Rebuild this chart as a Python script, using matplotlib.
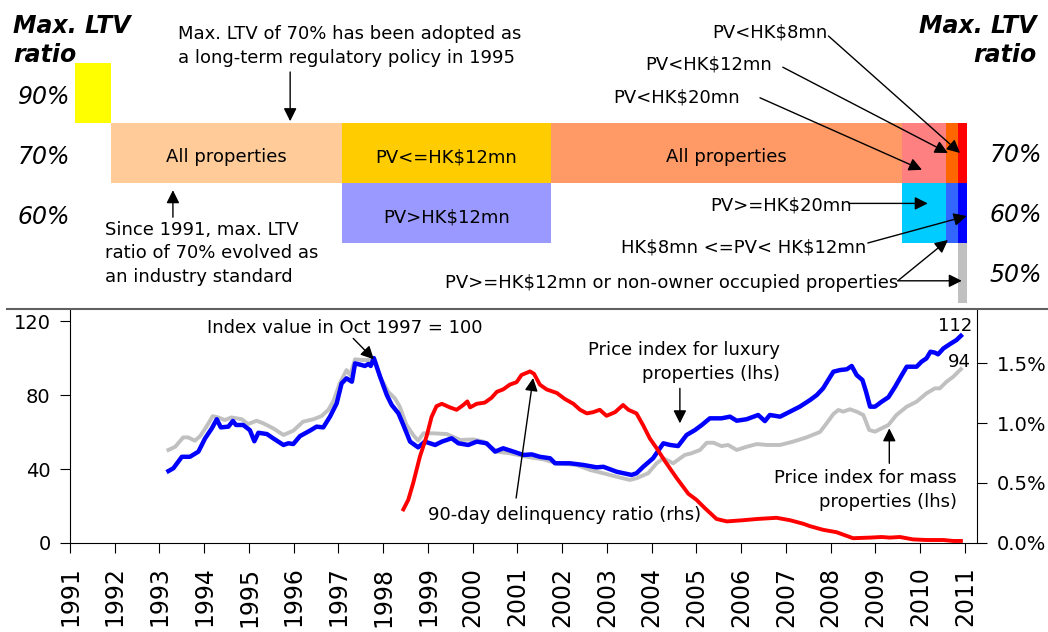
import matplotlib.pyplot as plt
from matplotlib.lines import Line2D
from matplotlib.ticker import FuncFormatter

plt.rcParams['font.family'] = ['DejaVu Sans']
plt.rcParams['text.parse_math'] = False

# ---------------- data ----------------
years = list(range(1991, 2012))

lux_year = [1993.20, 1993.31, 1993.50, 1993.68, 1993.87, 1994.02, 1994.17, 1994.28, 1994.37, 1994.54,
            1994.64, 1994.71, 1994.87, 1995.02, 1995.12, 1995.21, 1995.40, 1995.54, 1995.77, 1995.88,
            1995.99, 1996.14, 1996.36, 1996.51, 1996.66, 1996.81, 1996.96, 1997.07, 1997.18, 1997.30,
            1997.37, 1997.52, 1997.59, 1997.67, 1997.72, 1997.79, 1997.93, 1998.08, 1998.19, 1998.34,
            1998.45, 1998.60, 1998.78, 1998.93, 1999.16, 1999.31, 1999.53, 1999.68, 1999.90, 2000.09,
            2000.31, 2000.50, 2000.68, 2000.91, 2001.13, 2001.32, 2001.50, 2001.73, 2001.84, 2002.17,
            2002.47, 2002.77, 2002.92, 2003.22, 2003.55, 2003.66, 2003.81, 2004.03, 2004.26, 2004.41,
            2004.59, 2004.78, 2004.97, 2005.12, 2005.30, 2005.56, 2005.75, 2005.90, 2006.12, 2006.38,
            2006.53, 2006.64, 2006.87, 2007.09, 2007.31, 2007.54, 2007.69, 2007.83, 2008.06, 2008.21,
            2008.36, 2008.47, 2008.58, 2008.71, 2008.79, 2008.88, 2008.99, 2009.14, 2009.29, 2009.44,
            2009.59, 2009.70, 2009.92, 2010.03, 2010.14, 2010.23, 2010.33, 2010.40, 2010.52, 2010.67,
            2010.81, 2010.91]
lux_index = [38.9, 40.4, 46.6, 46.6, 49.4, 56.6, 62.0, 66.9, 62.5, 62.9,
             66.0, 63.8, 63.8, 61.0, 55.0, 59.6, 58.9, 56.6, 53.0, 53.9,
             53.5, 57.8, 60.7, 62.9, 62.5, 68.3, 75.5, 86.3, 89.0, 87.2,
             97.1, 96.2, 95.7, 96.8, 95.7, 100.0, 89.9, 80.0, 74.6, 70.1,
             63.8, 54.8, 51.7, 54.8, 53.0, 54.8, 56.6, 53.9, 53.0, 54.8,
             53.9, 49.4, 51.2, 49.4, 47.6, 47.9, 46.6, 45.8, 43.1, 43.1,
             42.2, 40.9, 41.2, 38.5, 36.8, 37.7, 41.2, 45.8, 53.9, 53.0,
             52.4, 58.4, 61.1, 63.8, 67.4, 67.4, 68.3, 66.1, 66.9, 69.2,
             65.9, 69.2, 68.3, 71.0, 73.7, 77.3, 80.0, 83.6, 92.6, 93.5,
             93.9, 95.7, 90.8, 88.1, 81.8, 73.7, 73.7, 76.4, 78.8, 84.5,
             90.8, 95.3, 95.3, 98.0, 99.8, 103.4, 102.9, 102.0, 105.2, 107.6,
             109.7, 112.0]

mass_year = [1993.20, 1993.35, 1993.53, 1993.64, 1993.79, 1993.91, 1994.05, 1994.19, 1994.31, 1994.46,
             1994.61, 1994.84, 1994.98, 1995.17, 1995.32, 1995.54, 1995.77, 1995.99, 1996.21, 1996.44,
             1996.62, 1996.77, 1996.88, 1997.03, 1997.18, 1997.26, 1997.37, 1997.55, 1997.70, 1997.79,
             1997.93, 1998.11, 1998.26, 1998.37, 1998.52, 1998.67, 1998.78, 1998.90, 1999.12, 1999.42,
             1999.72, 2000.01, 2000.24, 2000.54, 2000.83, 2001.21, 2001.58, 2001.88, 2002.32, 2002.62,
             2002.92, 2003.22, 2003.51, 2003.66, 2003.92, 2004.11, 2004.26, 2004.48, 2004.74, 2004.89,
             2005.08, 2005.23, 2005.38, 2005.56, 2005.71, 2005.90, 2006.12, 2006.35, 2006.57, 2006.87,
             2007.16, 2007.46, 2007.76, 2007.91, 2008.06, 2008.17, 2008.28, 2008.43, 2008.58, 2008.73,
             2008.86, 2008.99, 2009.14, 2009.29, 2009.47, 2009.70, 2009.92, 2010.14, 2010.33, 2010.44,
             2010.59, 2010.74, 2010.91]
mass_index = [50.3, 52.0, 57.1, 57.1, 55.3, 57.8, 62.9, 68.6, 67.9, 66.5,
              67.9, 66.9, 64.3, 66.1, 64.7, 62.0, 58.4, 60.7, 65.6, 66.9,
              68.6, 71.9, 76.4, 86.3, 93.5, 90.8, 99.3, 98.9, 98.9, 100.0,
              89.9, 81.8, 78.2, 73.7, 63.8, 58.4, 55.3, 59.3, 59.3, 58.9,
              55.7, 56.0, 54.8, 49.4, 48.5, 46.6, 45.2, 43.1, 42.2, 39.5,
              37.7, 35.8, 34.1, 35.0, 37.7, 43.1, 45.8, 43.1, 47.6, 48.5,
              50.3, 54.2, 54.2, 52.4, 53.0, 50.3, 52.0, 53.5, 53.0, 53.0,
              54.8, 57.1, 60.0, 64.7, 69.7, 71.9, 71.0, 72.3, 71.0, 69.2,
              61.1, 60.2, 62.0, 63.8, 69.2, 73.7, 76.4, 80.9, 83.6, 83.6,
              87.2, 89.9, 94.0]

dq_year = [1998.45, 1998.56, 1998.67, 1998.82, 1998.97, 1999.08, 1999.19, 1999.31, 1999.49, 1999.64,
           1999.79, 1999.88, 1999.94, 2000.09, 2000.27, 2000.42, 2000.54, 2000.68, 2000.83, 2000.98,
           2001.09, 2001.28, 2001.37, 2001.50, 2001.65, 2001.88, 2002.06, 2002.25, 2002.40, 2002.55,
           2002.69, 2002.84, 2002.99, 2003.18, 2003.36, 2003.48, 2003.66, 2003.81, 2003.96, 2004.11,
           2004.30, 2004.56, 2004.82, 2005.00, 2005.19, 2005.45, 2005.68, 2006.05, 2006.35, 2006.79,
           2007.09, 2007.39, 2007.54, 2007.83, 2008.13, 2008.50, 2008.88, 2009.14, 2009.32, 2009.55,
           2009.84, 2010.14, 2010.52, 2010.74, 2010.91]
dq_ratio = [0.28, 0.36, 0.50, 0.72, 0.89, 1.05, 1.14, 1.16, 1.13, 1.11,
            1.15, 1.18, 1.13, 1.16, 1.17, 1.21, 1.26, 1.28, 1.32, 1.34,
            1.40, 1.43, 1.41, 1.32, 1.28, 1.25, 1.20, 1.16, 1.11, 1.08,
            1.09, 1.11, 1.06, 1.09, 1.15, 1.11, 1.08, 0.98, 0.87, 0.79,
            0.68, 0.54, 0.41, 0.36, 0.29, 0.20, 0.18, 0.19, 0.20, 0.21,
            0.19, 0.16, 0.14, 0.11, 0.09, 0.04, 0.045, 0.05, 0.045, 0.05,
            0.03, 0.025, 0.025, 0.017, 0.017]

# LTV policy periods (decimal years) and the cap that applied
seg_start = [1991.11, 1991.92, 1997.08, 1997.08, 2001.75, 2009.59, 2009.59,
             2010.58, 2010.58, 2010.84, 2010.84, 2010.84]
seg_end = [1991.92, 1997.08, 2001.75, 2001.75, 2009.59, 2010.58, 2010.58,
           2010.84, 2010.84, 2011.04, 2011.04, 2011.04]
seg_ltv = [90, 70, 70, 60, 70, 70, 60, 70, 60, 70, 60, 50]
seg_label = ['', 'All properties', 'PV<=HK$12mn', 'PV>HK$12mn', 'All properties',
             '', '', '', '', '', '', '']
seg_color = ['#FFFF00', '#FFCC99', '#FFCC00', '#9999FF', '#FF9966', '#FF8080', '#00CCFF',
             '#FF6600', '#3366FF', '#FF0000', '#0000FF', '#C0C0C0']

left_ltv = [90, 70, 60]
right_ltv = [70, 60, 50]

# ---------------- figure ----------------
W, H = 1048, 632
fig = plt.figure(figsize=(W / 100, H / 100), dpi=100)

x0, x1 = 70, 977          # plot area left / right (px)
y_sep = 309               # separator between the panels (px)
y_base = 543              # zero line of the lower chart (px)
xlim = (1991, 2011.27)

ax_top = fig.add_axes([x0 / W, 1 - y_sep / H, (x1 - x0) / W, y_sep / H])
ax = fig.add_axes([x0 / W, 1 - y_base / H, (x1 - x0) / W, (y_base - y_sep) / H])
ax2 = ax.twinx()

arrow = dict(arrowstyle='-|>,head_length=0.6,head_width=0.3', color='black', lw=1,
             mutation_scale=13, shrinkA=0, shrinkB=0)
fs = 13

# ---- top panel: LTV caps ----
rows = {90: 3, 70: 2, 60: 1, 50: 0}
ax_top.set_xlim(*xlim)
ax_top.set_ylim(-0.1, 5.05)
ax_top.axis('off')

for s, e, l, c, lab in zip(seg_start, seg_end, seg_ltv, seg_color, seg_label):
    r = rows[l]
    ax_top.barh(r, e - s, left=s, height=1, align='edge', color=c, linewidth=0)
    if lab:
        ax_top.text((s + e) / 2, r + 0.43, lab, ha='center', va='center', fontsize=fs)

for l in left_ltv:
    ax_top.text(1991.0, rows[l] + 0.44, f'{l}%', ha='right', va='center',
                fontsize=17, style='italic')
for l in right_ltv:
    ax_top.text(2011.56, rows[l] + 0.46, f'{l}%', ha='left', va='center',
                fontsize=17, style='italic')

ax_top.text(1989.73, 4.82, 'Max. LTV\nratio', ha='left', va='top', fontsize=17,
            fontweight='bold', style='italic', linespacing=1.25)
ax_top.text(2012.61, 4.82, 'Max. LTV\nratio', ha='right', va='top', fontsize=17,
            fontweight='bold', style='italic', linespacing=1.25, multialignment='right')

ax_top.text(1993.41, 4.63, 'Max. LTV of 70% has been adopted as\na long-term regulatory policy in 1995',
            ha='left', va='top', fontsize=fs, linespacing=1.4)
ax_top.annotate('', xy=(1995.92, 3.03), xytext=(1995.92, 3.85), arrowprops=arrow)

ax_top.text(1991.78, 1.37, 'Since 1991, max. LTV\nratio of 70% evolved as\nan industry standard',
            ha='left', va='top', fontsize=fs, linespacing=1.4)
ax_top.annotate('', xy=(1993.30, 1.88), xytext=(1993.30, 1.43), arrowprops=arrow)

ax_top.text(2007.92, 4.5, 'PV<HK$8mn', ha='right', va='center', fontsize=fs)
ax_top.annotate('', xy=(2010.89, 2.5), xytext=(2007.95, 4.45), arrowprops=arrow)
ax_top.text(2006.69, 3.97, 'PV<HK$12mn', ha='right', va='center', fontsize=fs)
ax_top.annotate('', xy=(2010.62, 2.5), xytext=(2006.93, 3.93), arrowprops=arrow)
ax_top.text(2005.97, 3.43, 'PV<HK$20mn', ha='right', va='center', fontsize=fs)
ax_top.annotate('', xy=(2010.04, 2.22), xytext=(2006.42, 3.42), arrowprops=arrow)
ax_top.text(2008.47, 1.63, 'PV>=HK$20mn', ha='right', va='center', fontsize=fs)
ax_top.annotate('', xy=(2010.17, 1.66), xytext=(2008.4, 1.66), arrowprops=arrow)
ax_top.text(2008.79, 0.93, 'HK$8mn <=PV< HK$12mn', ha='right', va='center', fontsize=fs)
ax_top.annotate('', xy=(2011.04, 1.45), xytext=(2008.83, 1.0), arrowprops=arrow)
ax_top.text(2009.50, 0.33, 'PV>=HK$12mn or non-owner occupied properties',
            ha='right', va='center', fontsize=fs)
ax_top.annotate('', xy=(2010.62, 1.05), xytext=(2009.50, 0.37), arrowprops=arrow)
ax_top.annotate('', xy=(2010.93, 0.37), xytext=(2009.50, 0.37), arrowprops=arrow)

# separator line across the figure
fig.add_artist(Line2D([7 / W, 1], [1 - y_sep / H] * 2, transform=fig.transFigure,
                      color='#606060', lw=1.5))

# ---- lower panel: price indices and delinquency ----
ax.plot(mass_year, mass_index, color='#C0C0C0', lw=2.8, solid_joinstyle='round')
ax.plot(lux_year, lux_index, color='#0000FF', lw=3.2, solid_joinstyle='round')
ax2.plot(dq_year, dq_ratio, color='#FF0000', lw=2.8, solid_joinstyle='round')

ax.set_xlim(*xlim)
ax.set_ylim(0, 126.5)
ax2.set_ylim(0, 1.95)
ax.set_yticks([0, 40, 80, 120])
ax2.set_yticks([0, 0.5, 1.0, 1.5])
ax2.yaxis.set_major_formatter(FuncFormatter(lambda v, p: f'{v:.1f}%'))
ax.set_xticks(years)
ax.set_xticklabels([str(y) for y in years], rotation=90)

for a in (ax, ax2):
    a.spines['top'].set_visible(False)
ax.spines['right'].set_visible(False)
ax2.spines['left'].set_visible(False)
ax2.spines['bottom'].set_visible(False)
ax.tick_params(axis='y', direction='out', length=7, pad=7, labelsize=14)
ax.tick_params(axis='x', direction='out', length=7, pad=10, labelsize=17)
ax2.tick_params(axis='y', direction='out', length=7, pad=7, labelsize=14)

# annotations sit on ax2 so they stay above all lines; coordinates use the left scale
lhs = ax.transData
ax2.text(2000.21, 116.2, 'Index value in Oct 1997 = 100', transform=lhs,
         ha='right', va='center', fontsize=fs)
ax2.annotate('', xy=(1997.79, 99.3), xycoords=lhs,
             xytext=(1997.33, 110.6), textcoords=lhs, arrowprops=arrow)

ax2.text(2011.16, 117.3, '112', transform=lhs, ha='right', va='center', fontsize=fs)
ax2.text(2011.13, 97.8, '94', transform=lhs, ha='right', va='center', fontsize=fs)

ax2.text(2006.87, 97.8, 'Price index for luxury\nproperties (lhs)', transform=lhs,
         ha='right', va='center', multialignment='right', fontsize=fs, linespacing=1.4)
ax2.annotate('', xy=(2004.63, 64.7), xycoords=lhs,
             xytext=(2004.63, 83.6), textcoords=lhs, arrowprops=arrow)

ax2.text(2010.82, 28.6, 'Price index for mass\nproperties (lhs)', transform=lhs,
         ha='right', va='center', multialignment='right', fontsize=fs, linespacing=1.4)
ax2.annotate('', xy=(2009.31, 62.0), xycoords=lhs,
             xytext=(2009.31, 43.1), textcoords=lhs, arrowprops=arrow)

ax2.text(2002.06, 15.1, '90-day delinquency ratio (rhs)', transform=lhs,
         ha='center', va='center', fontsize=fs)
ax2.annotate('', xy=(2001.35, 89.2), xycoords=lhs,
             xytext=(2000.97, 24.3), textcoords=lhs, arrowprops=arrow)

fig.savefig('out.png', dpi=100)
